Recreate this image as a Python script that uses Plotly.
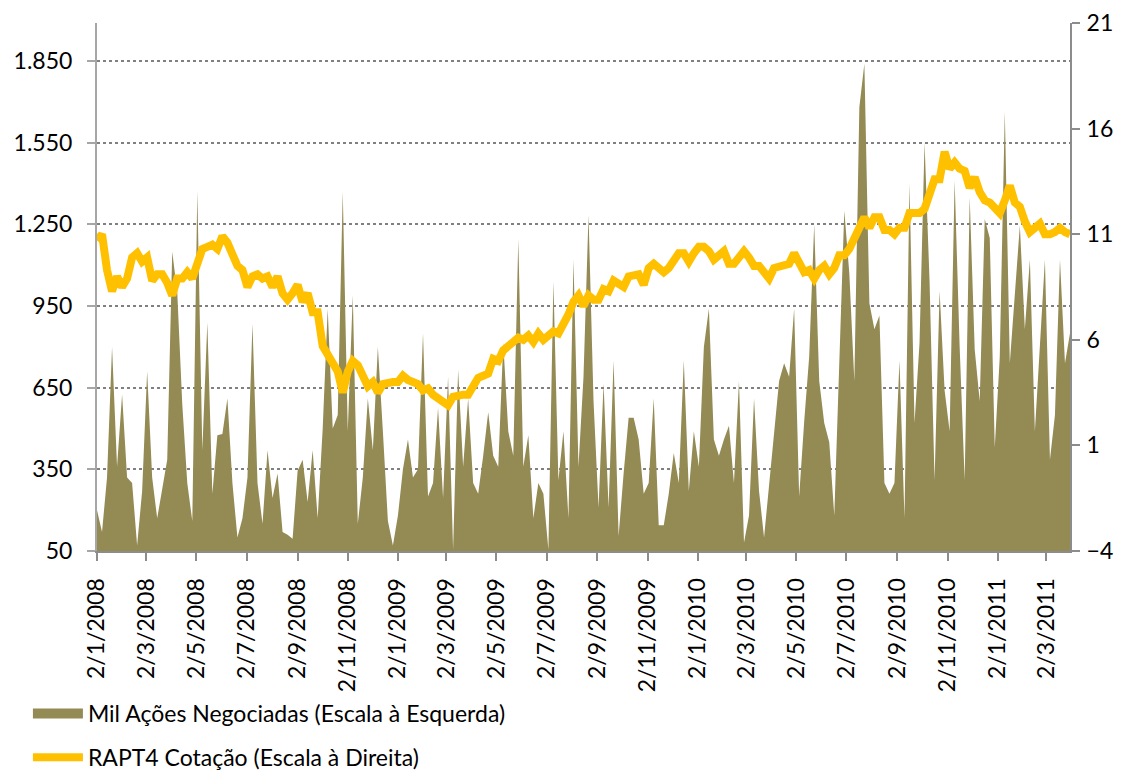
import plotly.graph_objects as go
import pandas as pd

start_date = "2008-01-02"
end_date = "2011-03-31"

# Mil ações negociadas (left axis), sampled roughly every 6 days
volume_mil = [
    200, 120, 320, 800, 360, 625, 320, 300, 70, 270, 710, 320, 170, 280, 385, 1150, 1000, 590, 300, 160,
    1373, 420, 890, 260, 475, 480, 610, 300, 100, 170, 320, 885, 300,
    150, 420, 245, 335, 120, 110, 95, 345, 385, 230, 420, 170, 500, 940, 500, 550, 1370, 490, 990, 150,
    320, 610, 420, 800, 490, 160, 70, 180, 350, 460, 320, 350, 850,
    250, 300, 575, 245, 690, 55, 715, 360, 610, 300, 260, 400, 560, 400, 360, 815, 490, 400, 1195, 360,
    475, 170, 300, 260, 55, 1040, 310, 490, 170, 1120, 360, 690, 1285,
    600, 210, 665, 210, 750, 105, 335, 540, 540, 460, 260, 300, 610, 145, 145, 260, 410, 300, 750, 270,
    490, 360, 800, 940, 460, 400, 460, 510, 300, 675, 80, 180, 610,
    270, 100, 300, 500, 675, 740, 690, 940, 250, 525, 765, 1250, 675, 520, 450, 180, 740, 1300, 1070, 675,
    1680, 1840, 960, 865, 915, 300, 260, 300, 750, 170, 1400, 520, 815,
    1550, 1040, 310, 1005, 640, 490, 1410, 800, 310, 1350, 790, 600, 1270, 1200, 430, 765, 1665, 740, 990,
    1245, 865, 1120, 490, 800, 1120, 385, 550, 1120, 740, 850,
]

# RAPT4 cotação (right axis)
price_rapt4 = [
    10.7, 11.0, 9.3, 8.3, 9.0, 8.5, 8.9, 9.9, 10.1, 9.7, 9.9, 8.8, 9.1, 9.1, 8.7, 8.1, 8.9, 8.9, 9.2, 8.9,
    9.6, 10.3, 10.4, 10.5, 10.3, 10.9, 10.6, 10.0, 9.5, 9.3, 8.5, 9.0, 9.1,
    8.9, 9.0, 8.5, 9.0, 8.2, 7.9, 8.2, 8.6, 7.8, 8.2, 7.3, 7.3, 5.7, 5.2, 4.9, 4.5, 3.5, 4.5, 5.0, 4.8,
    4.3, 3.8, 4.0, 3.5, 3.9, 4.0, 4.0, 4.0, 4.3, 4.1, 4.0, 3.9, 3.6,
    3.7, 3.4, 3.2, 3.1, 2.9, 3.3, 3.4, 3.4, 3.4, 3.8, 4.2, 4.3, 4.4, 5.1, 5.0, 5.5, 5.7, 6.0, 6.1, 6.0,
    6.2, 5.9, 6.3, 6.0, 6.2, 6.4, 6.3, 6.7, 7.2, 7.8, 8.1, 7.6, 8.1,
    7.9, 7.9, 8.4, 8.3, 8.8, 8.7, 8.5, 9.0, 9.1, 9.1, 8.6, 9.4, 9.6, 9.4, 9.2, 9.4, 9.8, 10.1, 10.1, 9.7,
    10.1, 10.4, 10.4, 10.2, 9.8, 10.0, 10.2, 9.6, 9.6, 9.9, 10.2, 9.9, 9.5,
    9.5, 9.2, 8.9, 9.4, 9.5, 9.5, 9.6, 10.1, 9.6, 9.2, 9.3, 8.9, 9.3, 9.5, 9.1, 9.4, 10.0, 10.0, 10.3, 10.8,
    11.5, 11.8, 11.3, 11.8, 11.8, 11.2, 11.2, 11.0, 11.3, 11.3, 12.0, 12.0, 12.0,
    12.2, 12.9, 13.6, 13.6, 14.9, 14.1, 14.4, 14.1, 14.0, 13.2, 13.7, 13.0, 12.6, 12.5, 12.2, 12.0, 12.6, 13.3, 12.5,
    12.3, 11.6, 11.1, 11.3, 11.5, 11.0, 11.0, 11.1, 11.3, 11.1, 11.0,
]

tick_dates = [
    "2008-01-02", "2008-03-02", "2008-05-02", "2008-07-02", "2008-09-02", "2008-11-02",
    "2009-01-02", "2009-03-02", "2009-05-02", "2009-07-02", "2009-09-02", "2009-11-02",
    "2010-01-02", "2010-03-02", "2010-05-02", "2010-07-02", "2010-09-02", "2010-11-02",
    "2011-01-02", "2011-03-02",
]
tick_labels = [
    "2/1/2008", "2/3/2008", "2/5/2008", "2/7/2008", "2/9/2008", "2/11/2008",
    "2/1/2009", "2/3/2009", "2/5/2009", "2/7/2009", "2/9/2009", "2/11/2009",
    "2/1/2010", "2/3/2010", "2/5/2010", "2/7/2010", "2/9/2010", "2/11/2010",
    "2/1/2011", "2/3/2011",
]

left_ticks = [50, 350, 650, 950, 1250, 1550, 1850]
left_labels = ["50", "350", "650", "950", "1.250", "1.550", "1.850"]
right_ticks = [-4, 1, 6, 11, 16, 21]

dates = pd.date_range(start_date, end_date, periods=len(volume_mil))

OLIVE = "#948A54"
GOLD = "#FFC000"
AXIS = "#8C8C8C"

fig = go.Figure()
fig.add_trace(go.Scatter(
    x=dates, y=volume_mil, mode="lines", fill="tozeroy",
    line=dict(width=0, color=OLIVE), fillcolor=OLIVE,
    name="Mil Ações Negociadas (Escala à Esquerda)",
    legendgroup="vol", showlegend=False, hoverinfo="x+y",
))
fig.add_trace(go.Scatter(
    x=[None], y=[None], mode="lines",
    line=dict(width=19, color=OLIVE),
    name="Mil Ações Negociadas (Escala à Esquerda)",
    legendgroup="vol", showlegend=True,
))
fig.add_trace(go.Scatter(
    x=dates, y=price_rapt4, yaxis="y2", mode="lines",
    line=dict(width=8, color=GOLD),
    name="RAPT4 Cotação (Escala à Direita)",
    legendgroup="price",
))

fig.update_layout(
    width=1122, height=771,
    margin=dict(l=89, r=60, t=15, b=228, autoexpand=False),
    paper_bgcolor="white", plot_bgcolor="white",
    font=dict(family="Lato, Carlito, Calibri, sans-serif", size=23, color="black"),
    showlegend=True,
    legend=dict(
        x=-0.071, y=-0.267, xanchor="left", yanchor="top",
        orientation="v", itemwidth=50, tracegroupgap=11,
        traceorder="grouped",
        font=dict(size=23, color="black"), bgcolor="rgba(0,0,0,0)",
    ),
    xaxis=dict(
        type="date", range=[start_date, end_date],
        tickmode="array", tickvals=tick_dates, ticktext=tick_labels,
        tickangle=-90, showgrid=False, zeroline=False,
        showline=True, linecolor=AXIS, linewidth=2,
        ticks="outside", ticklen=8, tickwidth=2, tickcolor=AXIS,
        ticklabelstandoff=8,
    ),
    yaxis=dict(
        range=[50, 1990], tickmode="array", tickvals=left_ticks, ticktext=left_labels,
        showgrid=True, gridcolor="#808080", griddash="dot", gridwidth=1.5,
        zeroline=False, showline=True, linecolor="#A6A6A6", linewidth=2,
        ticks="outside", ticklen=8, tickwidth=2, tickcolor="#A6A6A6",
        ticklabelstandoff=10,
    ),
    yaxis2=dict(
        overlaying="y", side="right", range=[-4, 21],
        tickmode="array", tickvals=right_ticks,
        showgrid=False, zeroline=False, showline=True, linecolor=AXIS, linewidth=2,
        ticks="outside", ticklen=8, tickwidth=2, tickcolor=AXIS,
        ticklabelstandoff=2,
    ),
)

fig.write_html("out.html")
